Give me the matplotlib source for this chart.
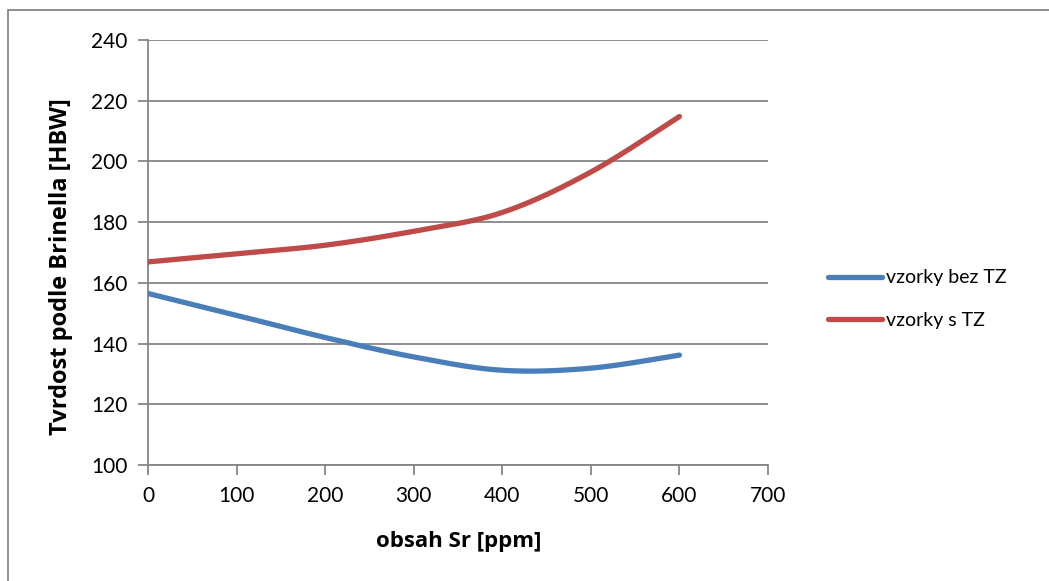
import numpy as np
import matplotlib.pyplot as plt
from matplotlib.patches import Rectangle

# obsah Sr v ppm a tvrdost HBW
obsahSr = [0, 100, 200, 300, 400, 500, 600]
tvrdostBezTZ = [156.5, 149.3, 142.0, 135.6, 131.2, 131.9, 136.2]
tvrdostSTZ = [166.9, 169.6, 172.4, 177.0, 183.2, 196.5, 214.8]

popisky = ['vzorky bez TZ', 'vzorky s TZ']
barvy = ['#4A7EBB', '#BE4B48']

xTicks = [0, 100, 200, 300, 400, 500, 600, 700]
yTicks = [100, 120, 140, 160, 180, 200, 220, 240]

plt.rcParams['font.family'] = ['Lato', 'DejaVu Sans']
sedá = '#868686'


def VyhlazenaKrivka(x, y, n=60):
    # bezierovo vyhlazeni jako v Excelu (kontrolni body s koeficientem 1/6)
    body = np.column_stack([x, y]).astype(float)
    krivka = []
    for i in range(len(body) - 1):
        p0 = body[i - 1] if i > 0 else body[i]
        p1 = body[i]
        p2 = body[i + 1]
        p3 = body[i + 2] if i + 2 < len(body) else body[i + 1]
        c1 = p1 + (p2 - p0) / 6
        c2 = p2 - (p3 - p1) / 6
        t = np.linspace(0, 1, n)[:, None]
        seg = ((1 - t) ** 3) * p1 + 3 * ((1 - t) ** 2) * t * c1 + 3 * (1 - t) * t ** 2 * c2 + t ** 3 * p2
        krivka.append(seg if i == 0 else seg[1:])
    krivka = np.vstack(krivka)
    return krivka[:, 0], krivka[:, 1]


fig = plt.figure(figsize=(10.49, 5.81), dpi=100)
ax = fig.add_axes([148 / 1049, 1 - 465 / 581, 620 / 1049, 425 / 581])

for data, popisek, barva in zip([tvrdostBezTZ, tvrdostSTZ], popisky, barvy):
    xs, ys = VyhlazenaKrivka(obsahSr, data)
    ax.plot(xs, ys, color=barva, lw=3.8, solid_capstyle='round', label=popisek, zorder=3)

ax.set_xlim(0, 700)
ax.set_ylim(100, 240)
ax.set_xticks(xTicks)
ax.set_yticks(yTicks)
ax.yaxis.grid(True, color=sedá, lw=1.3)
ax.set_axisbelow(True)

for strana in ['top', 'right']:
    ax.spines[strana].set_visible(False)
for strana in ['left', 'bottom']:
    ax.spines[strana].set_color(sedá)
    ax.spines[strana].set_linewidth(1.3)

ax.tick_params(axis='both', direction='out', length=7, width=1.3, color=sedá,
               labelsize=15, labelcolor='black')
ax.tick_params(axis='x', pad=8)
ax.tick_params(axis='y', pad=8)

# popisky os
fig.text(459 / 1049, 1 - 541 / 581, 'obsah Sr [ppm]', fontsize=16, fontweight='bold',
         family='Open Sans', ha='center', va='center')
fig.text(61 / 1049, 1 - 267 / 581, 'Tvrdost podle Brinella [HBW]', fontsize=17,
         fontweight='bold', family='Open Sans', rotation=90, ha='center', va='center')

ax.legend(loc='center left', bbox_to_anchor=(828 / 1049, 1 - 299 / 581),
          bbox_transform=fig.transFigure, frameon=False, fontsize=14,
          handlelength=2.8, handletextpad=0.2, labelspacing=1.3,
          borderpad=0, borderaxespad=0)

# ramecek kolem grafu
fig.patches.append(Rectangle((8 / 1049, -0.1), 1.2, 1 - 10 / 581 + 0.1,
                             transform=fig.transFigure, fill=False,
                             edgecolor=sedá, lw=1.3))

fig.savefig('out.png', dpi=100)
